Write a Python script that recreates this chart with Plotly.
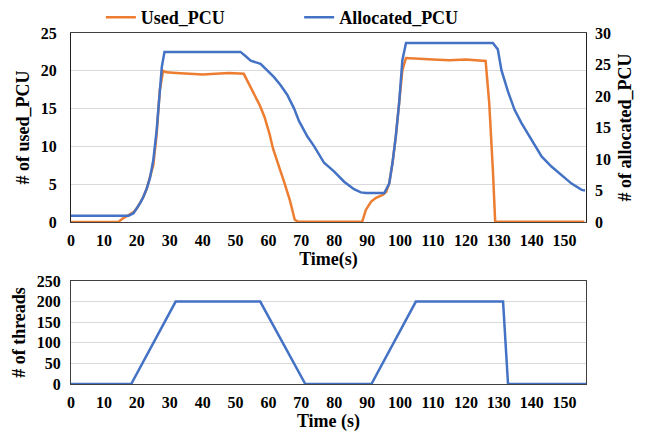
import plotly.graph_objects as go

# ---------------- data ----------------
used_t = [0, 14.4, 15.5, 17, 18, 19, 20, 21, 22, 23, 24, 25, 26, 27, 28, 29, 32, 36, 40, 44, 48, 52.5,
          54.8, 57.3, 58.8, 60.3, 61.4, 62.9, 64.9, 66.5, 68.0, 69.0, 75, 80, 88.5, 89.6, 91.2, 92.7,
          94.8, 95.8, 96.7, 97.7, 98.7, 99.7, 100.7, 101.8, 105, 110, 115, 120, 126.0, 127.1, 128.2,
          128.9, 135, 140, 145, 150, 156]
used_pcu = [0, 0, 0.4, 0.8, 1.0, 1.3, 1.8, 2.5, 3.3, 4.4, 5.8, 7.5, 11.5, 17.5, 20.0, 19.8, 19.7, 19.6,
            19.5, 19.6, 19.7, 19.6, 17.7, 15.5, 13.9, 11.7, 9.7, 7.8, 5.1, 2.9, 0.3, 0.05, 0.05, 0.05,
            0.05, 1.6, 2.7, 3.2, 3.6, 4.0, 5.1, 7.8, 11.3, 15.7, 20.1, 21.7, 21.6, 21.5, 21.4, 21.5, 21.3,
            15.7, 6.9, 0.05, 0.05, 0.05, 0.05, 0.05, 0.05]

alloc_t = [0, 17.5, 19, 20, 21, 22, 23, 24, 25, 26, 27, 27.6, 28.4, 51.5, 53.1, 54.6, 57.6, 59.6, 61.7,
           63.7, 65.7, 67.8, 69.3, 71.8, 73.9, 76.9, 80.0, 83.0, 86.0, 88.1, 89.6, 95.2, 96.7, 97.7,
           98.7, 99.7, 100.7, 101.8, 128.2, 129.7, 130.8, 132.8, 134.8, 136.9, 139.9, 143.0, 146.0,
           149.1, 152.1, 155.2, 156.2]
alloc_pcu = [1.0, 1.0, 1.4, 2.1, 3.0, 4.0, 5.3, 7.0, 9.8, 14.4, 21.2, 24.6, 27.0, 27.0, 26.3, 25.6, 25.1,
             24.1, 23.0, 21.7, 20.2, 18.0, 16.0, 13.6, 12.0, 9.4, 8.0, 6.4, 5.2, 4.7, 4.6, 4.6, 6.1, 9.4,
             13.6, 18.8, 25.7, 28.4, 28.4, 27.4, 24.1, 20.7, 17.8, 15.7, 13.0, 10.4, 8.8, 7.5, 6.1, 5.1, 5.0]

thr_t = [0, 18.3, 31.8, 57.5, 71.2, 91.3, 104.8, 131.3, 132.8, 156.5]
threads = [0, 0, 200, 200, 0, 0, 200, 200, 0, 0]

x_ticks = list(range(0, 151, 10))
left_ticks = [0, 5, 10, 15, 20, 25]
right_ticks = [0, 5, 10, 15, 20, 25, 30]
thr_ticks = [0, 50, 100, 150, 200, 250]

ORANGE = "#ED7D31"
BLUE = "#4472C4"
FONT = "Liberation Serif, Times New Roman, serif"

fig = go.Figure()
fig.add_trace(go.Scatter(x=used_t, y=used_pcu, mode="lines", name="<b>Used_PCU</b>",
                         line=dict(color=ORANGE, width=2.5), xaxis="x", yaxis="y",
                         legend="legend"))
fig.add_trace(go.Scatter(x=alloc_t, y=alloc_pcu, mode="lines", name="<b>Allocated_PCU</b>",
                         line=dict(color=BLUE, width=2.5), xaxis="x", yaxis="y2",
                         legend="legend2"))
fig.add_trace(go.Scatter(x=thr_t, y=threads, mode="lines", showlegend=False,
                         line=dict(color=BLUE, width=2.5), xaxis="x2", yaxis="y3"))

tickfont = dict(family=FONT, size=16, color="black")
titlefont = dict(family=FONT, size=18, color="black")

def bold(vals):
    return [f"<b>{v}</b>" for v in vals]

xcommon = dict(range=[0, 156.5], tickvals=x_ticks, ticktext=bold(x_ticks),
               tickfont=tickfont, showgrid=False, zeroline=False, showline=True,
               linecolor="#404040", linewidth=1.2, mirror=True, ticks="", ticklabelstandoff=4)

legend_common = dict(orientation="h", yanchor="middle", y=0.978, yref="container",
                     xanchor="left", font=dict(family=FONT, size=18, color="black"),
                     bgcolor="rgba(0,0,0,0)", itemwidth=30)

fig.update_layout(
    width=647, height=430,
    margin=dict(l=63, r=69, t=25, b=54, autoexpand=False),
    plot_bgcolor="white", paper_bgcolor="white",
    font=dict(family=FONT, color="black"),
    showlegend=True,
    legend=dict(x=0.058, **legend_common),
    legend2=dict(x=0.443, **legend_common),
    xaxis=dict(domain=[0, 1], anchor="y",
               title=dict(text="<b>Time(s)</b>", font=titlefont, standoff=2), **xcommon),
    yaxis=dict(domain=[0.4615, 1], range=[0, 25], tickvals=left_ticks,
               ticktext=bold(left_ticks), tickfont=tickfont, ticklabelstandoff=10,
               showgrid=True, gridcolor="#d9d9d9", gridwidth=1, zeroline=False,
               showline=True, linecolor="#202020", linewidth=1.2, mirror=True,
               title=dict(text="<b># of used_PCU</b>", font=titlefont, standoff=6)),
    yaxis2=dict(overlaying="y", side="right", anchor="x", range=[0, 30],
                tickvals=right_ticks, ticktext=bold(right_ticks), tickfont=tickfont,
                ticklabelstandoff=8,
                showgrid=False, zeroline=False, showline=False,
                title=dict(text="<b># of allocated_PCU</b>", font=titlefont, standoff=8)),
    xaxis2=dict(domain=[0, 1], anchor="y3",
                title=dict(text="<b>Time (s)</b>", font=titlefont, standoff=2), **xcommon),
    yaxis3=dict(domain=[0, 0.2934], range=[0, 250], tickvals=thr_ticks,
                ticktext=bold(thr_ticks), tickfont=tickfont, ticklabelstandoff=6,
                showgrid=True, gridcolor="#d9d9d9", gridwidth=1, zeroline=False,
                showline=True, linecolor="#404040", linewidth=1.2, mirror=True,
                title=dict(text="<b># of threads</b>", font=titlefont, standoff=6)),
)

fig.write_html("out.html")
